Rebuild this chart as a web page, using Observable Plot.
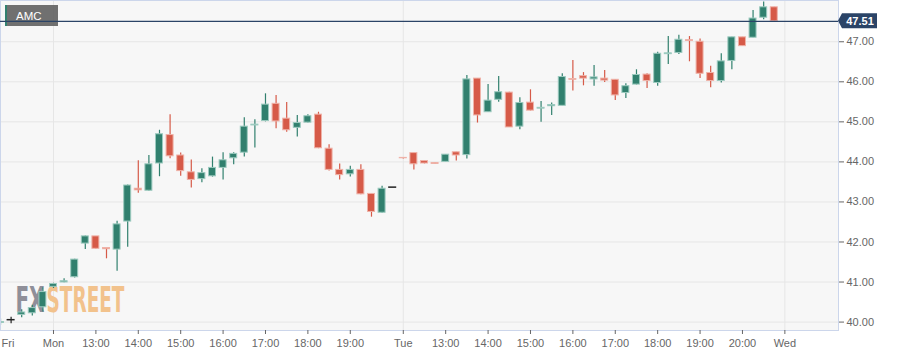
<!DOCTYPE html>
<html><head><meta charset="utf-8">
<script src="https://cdn.jsdelivr.net/npm/d3@7"></script>
<script src="https://cdn.jsdelivr.net/npm/@observablehq/plot@0.6"></script>
<style>
html,body{margin:0;padding:0;background:#fff;}
#chart{width:909px;height:356px;overflow:hidden;}
</style></head><body><div id="chart"></div>
<script>
const symbol = "AMC";
const lastPrice = 47.51;
const opens  = [39.98,40.06,40.18,40.22,40.37,40.88,40.99,41.12,41.96,42.14,41.85,41.81,42.51,43.33,43.28,43.96,44.67,44.16,43.74,43.57,43.64,43.85,44.09,44.23,44.91,45.02,45.45,45.08,44.85,44.98,45.18,44.33,43.80,43.69,43.80,43.20,42.73,43.37,44.10,44.22,44.02,43.97,44.00,44.24,44.17,46.08,45.24,45.55,45.73,44.88,45.48,45.33,45.39,45.40,46.07,46.14,46.06,46.08,46.05,45.72,45.93,46.18,45.97,46.69,46.72,47.04,47.00,46.22,46.02,46.52,47.11,47.10,47.60,47.86];
const highs  = [40.08,40.12,40.31,40.42,40.86,40.97,41.08,41.57,42.15,42.14,41.85,42.52,43.42,44.03,44.16,44.79,45.18,44.22,44.05,43.83,44.12,44.23,44.23,45.10,45.05,45.70,45.66,45.48,45.16,45.18,45.24,44.43,43.95,43.89,43.93,43.20,43.39,43.37,44.10,44.22,44.02,43.97,44.18,44.24,46.16,46.08,45.93,46.13,45.74,45.60,45.80,45.51,45.47,46.20,46.53,46.23,46.41,46.28,46.05,45.95,46.30,46.20,46.74,47.13,47.16,47.13,47.07,46.39,46.70,47.11,47.11,47.78,47.99,47.86];
const lows   = [39.92,39.96,40.11,40.15,40.25,40.84,40.98,41.10,41.81,41.82,41.58,41.27,41.87,43.22,43.27,43.63,44.08,43.64,43.35,43.48,43.62,43.55,43.93,44.12,44.35,45.00,44.83,44.74,44.62,44.97,44.33,43.77,43.55,43.62,43.18,42.62,42.72,43.37,44.07,43.80,43.95,43.95,44.00,44.02,44.07,44.97,45.24,45.49,44.86,44.80,45.27,44.99,45.16,45.40,45.77,45.90,45.89,45.98,45.53,45.58,45.92,45.83,45.89,46.43,46.68,46.50,46.08,45.85,45.97,46.30,46.89,47.10,47.55,47.49];
const closes = [40.00,40.06,40.24,40.35,40.75,40.95,41.02,41.56,42.14,41.83,41.82,42.44,43.41,43.29,43.94,44.69,44.14,43.77,43.55,43.72,43.85,44.04,44.20,44.88,44.93,45.43,45.01,44.79,44.97,45.14,44.34,43.80,43.67,43.80,43.19,42.75,43.33,43.37,44.09,43.94,43.96,43.95,44.18,44.16,46.06,45.16,45.53,45.74,44.86,45.47,45.28,45.35,45.42,46.12,46.05,46.08,46.11,46.03,45.66,45.89,46.17,46.02,46.70,46.71,47.05,47.02,46.20,46.02,46.51,47.11,46.89,47.58,47.86,47.51];
const yTicks = [40,41,42,43,44,45,46,47];
const xTickIdx = [0,5,9,13,17,21,25,29,33,38,42,46,50,54,58,62,66,70,74];
const xTickLabels = ["Fri","Mon","13:00","14:00","15:00","16:00","17:00","18:00","19:00","Tue","13:00","14:00","15:00","16:00","17:00","18:00","19:00","20:00","Wed"];
const dayIdx = [5,38,74];
const watermarkParts = ["FX","STREET"];

const UP = "#31806e", UP_STROKE = "#9ccabf";
const DOWN = "#d65a48", DOWN_STROKE = "#efb2a8";
const DOJI = "#222";
const LINE = "#2b4467";

const candles = opens.map((o,i)=>({i, open:o, high:highs[i], low:lows[i], close:closes[i]}));
const kind = d => d.close > d.open ? "up" : d.close < d.open ? "down" : "flat";
const bodies = candles.filter(d => kind(d) !== "flat");
const dojis = candles.filter(d => kind(d) === "flat");
const fillOf = d => kind(d) === "up" ? UP : kind(d) === "down" ? DOWN : DOJI;
const strokeOf = d => kind(d) === "up" ? UP_STROKE : DOWN_STROKE;
const labelOf = new Map(xTickIdx.map((v,k)=>[v, xTickLabels[k]]));
const HW = 0.33;
const WM_FONT = "'DejaVu Sans Condensed', 'DejaVu Sans', sans-serif";
const wmStyle = {frameAnchor: "bottom-left", dy: -19, textAnchor: "start", lineAnchor: "bottom", fontSize: 36, fontWeight: "bold", fontFamily: WM_FONT};

const plot = Plot.plot({
  width: 909, height: 356,
  marginLeft: 0, marginRight: 71, marginTop: 0, marginBottom: 26,
  style: {fontFamily: "'Liberation Sans', Arial, sans-serif", fontSize: "11px", background: "#fff"},
  x: {type: "linear", domain: [0, 79.06], axis: null},
  y: {domain: [39.79, 48.03], axis: null},
  color: {type: "identity"},
  marks: [
    Plot.frame({fill: "#f7f7f7"}),
    Plot.ruleY(yTicks, {stroke: "#e6e6e6"}),
    Plot.ruleX(dayIdx, {stroke: "#e6e6e6"}),
    Plot.text([watermarkParts[0]], {...wmStyle, text: d => d, dx: 15, fill: "#8f8f99"}),
    Plot.text([watermarkParts[1]], {...wmStyle, text: d => d, dx: 46, fill: "#f2c28c"}),
    Plot.ruleX(candles, {x: "i", y1: "low", y2: "high", stroke: fillOf, strokeWidth: 1.2}),
    Plot.rect(bodies, {x1: d => d.i - HW, x2: d => d.i + HW, y1: "open", y2: "close", fill: fillOf, stroke: strokeOf, strokeWidth: 1}),
    Plot.ruleY(dojis, {y: "open", x1: d => d.i - HW - 0.05, x2: d => d.i + HW + 0.05, stroke: DOJI, strokeWidth: 1.5}),
    Plot.frame({stroke: "#ccd6eb"}),
    Plot.ruleY([lastPrice], {stroke: LINE, strokeWidth: 1.2}),
    Plot.axisY(yTicks, {anchor: "right", tickSize: 5, tickPadding: 3, tickFormat: d => d.toFixed(2), color: "#666", fontSize: 11, label: null}),
    Plot.axisX(xTickIdx.slice(1), {anchor: "bottom", tickSize: 4, tickPadding: 5, tickFormat: d => labelOf.get(d), color: "#666", fontSize: 11, label: null}),
    Plot.axisX([0], {anchor: "bottom", tickSize: 0, tickPadding: 9, tickFormat: d => labelOf.get(d), textAnchor: "start", dx: 1, color: "#666", fontSize: 11, label: null})
  ]
});

document.getElementById("chart").appendChild(plot);
const svg = d3.select(plot);
// watermark: squeeze each part horizontally to the reference widths
const wmWidths = {FX: 29, STREET: 78};
svg.selectAll("text").filter(function(){ return this.textContent in wmWidths; }).each(function(){
  const len = this.getComputedTextLength();
  const bb = this.getBBox();
  const s = wmWidths[this.textContent] / len;
  const prev = this.getAttribute("transform") || "";
  this.setAttribute("transform", `${prev} translate(${bb.x},0) scale(${s},1) translate(${-bb.x},0)`);
});

// symbol badge, inserted under the last-price line
const lineG = svg.selectAll("g").filter(function(){ return this.getAttribute("stroke") === LINE; }).node();
const badge = lineG ? svg.insert("g", () => lineG) : svg.append("g");
badge.append("rect").attr("x", 5).attr("y", 5).attr("width", 53).attr("height", 21).attr("fill", "#646464").attr("fill-opacity", 0.92);
badge.append("rect").attr("x", 5).attr("y", 5).attr("width", 2).attr("height", 21).attr("fill", UP);
badge.append("text").attr("x", 16).attr("y", 20).attr("text-anchor", "start").attr("fill", "#fff").attr("font-size", 11.5).attr("font-family", "'Liberation Sans', Arial, sans-serif").text(symbol);

// last price label
const py = plot.scale("y").apply(lastPrice);
const xr = plot.scale("x").range[1];
const tag = svg.append("g");
tag.append("path").attr("d", `M${xr},${py} L${xr+4},${py-7.5} L${xr+39},${py-7.5} L${xr+39},${py+7.5} L${xr+4},${py+7.5} Z`).attr("fill", LINE);
tag.append("text").attr("x", xr + 22).attr("y", py).attr("dy", "0.35em").attr("text-anchor", "middle").attr("fill", "#fff").attr("font-weight", "bold").attr("font-size", 11).attr("font-family", "'Liberation Sans', Arial, sans-serif").text(lastPrice.toFixed(2));
</script></body></html>
